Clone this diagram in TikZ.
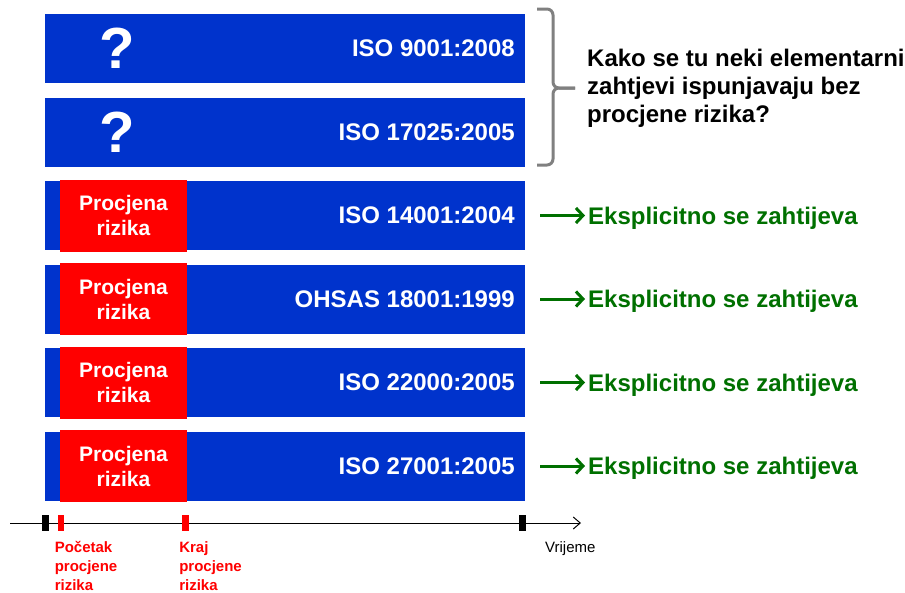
\documentclass[tikz,border=0pt]{standalone}
\usepackage{fontspec}
\setmainfont{Liberation Sans}
\usetikzlibrary{arrows.meta, positioning}
\definecolor{isoblue}{RGB}{0,51,204}
\definecolor{riskred}{RGB}{255,0,0}
\definecolor{okgreen}{RGB}{0,112,0}
\definecolor{bracegray}{RGB}{128,128,128}

\begin{document}
\begin{tikzpicture}[x=1pt, y=-1pt, node distance=14.5pt,
    bar/.style={rectangle, fill=isoblue, minimum width=480pt, minimum height=69pt, inner sep=0pt, outer sep=0pt},
    risk/.style={rectangle, fill=riskred, minimum width=127pt, minimum height=72pt, inner sep=0pt, outer sep=0pt, align=center, text=white, font=\fontsize{21}{25}\selectfont\bfseries},
    isotext/.style={inner sep=0pt, text=white, font=\fontsize{24}{28}\selectfont\bfseries},
    qmark/.style={inner sep=0pt, text=white, font=\fontsize{58}{62}\selectfont\bfseries},
    needed/.style={inner sep=0pt, text depth=0pt, text=okgreen, font=\fontsize{24}{28}\selectfont\bfseries},
    garrow/.style={okgreen, line width=3pt, -{Straight Barb[length=7pt,width=15pt]}, shorten <=15pt, shorten >=3pt},
    tick/.style={rectangle, minimum width=6.5pt, minimum height=16pt, inner sep=0pt},
    tlabel/.style={inner sep=0pt, align=left, text=riskred, font=\fontsize{15}{19}\selectfont\bfseries},
    bracket/.style={bracegray, line width=3pt, rounded corners=6pt}
]
    \useasboundingbox (0,0) rectangle (905,592);

    % Standard bars
    \node (b1) [bar] at (285,48.5) {};
    \node (b2) [bar, below=of b1] {};
    \node (b3) [bar, below=of b2] {};
    \node (b4) [bar, below=of b3] {};
    \node (b5) [bar, below=of b4] {};
    \node (b6) [bar, below=of b5] {};

    % Standard names
    \node (iso1) [isotext, left=10pt of b1.east] {ISO 9001:2008};
    \node (iso2) [isotext, left=10pt of b2.east] {ISO 17025:2005};
    \node (iso3) [isotext, left=10pt of b3.east] {ISO 14001:2004};
    \node (iso4) [isotext, left=10pt of b4.east] {OHSAS 18001:1999};
    \node (iso5) [isotext, left=10pt of b5.east] {ISO 22000:2005};
    \node (iso6) [isotext, left=10pt of b6.east] {ISO 27001:2005};

    % Unknown risk assessment
    \node (q1) [qmark, right=54pt of b1.west] {?};
    \node (q2) [qmark, right=54pt of b2.west] {?};

    % Risk assessment boxes
    \node (r3) [risk, right=15pt of b3.west] {Procjena\\rizika};
    \node (r4) [risk, right=15pt of b4.west] {Procjena\\rizika};
    \node (r5) [risk, right=15pt of b5.west] {Procjena\\rizika};
    \node (r6) [risk, right=15pt of b6.west] {Procjena\\rizika};

    % Bracket and question
    \draw[bracket] (575,88) -- (553,88) -- (553,9) -- (537,9);
    \draw[bracket] (575,88) -- (553,88) -- (553,165) -- (537,165);
    \node (question) [inner sep=0pt, align=left, anchor=west, font=\fontsize{24}{28}\selectfont\bfseries] at (587,88) {Kako se tu neki elementarni\\zahtjevi ispunjavaju bez\\procjene rizika?};

    % Explicit requirements
    \node (e3) [needed, right=63pt of b3] {Eksplicitno se zahtijeva};
    \node (e4) [needed, right=63pt of b4] {Eksplicitno se zahtijeva};
    \node (e5) [needed, right=63pt of b5] {Eksplicitno se zahtijeva};
    \node (e6) [needed, right=63pt of b6] {Eksplicitno se zahtijeva};

    \draw[garrow] (b3) -- (e3);
    \draw[garrow] (b4) -- (e4);
    \draw[garrow] (b5) -- (e5);
    \draw[garrow] (b6) -- (e6);

    % Time axis
    \coordinate (tstart) at (10,523);
    \coordinate (tend) at (581,523);
    \draw[line width=1pt, -{Straight Barb[length=7pt,width=12pt]}] (tstart) -- (tend);

    \node (k0) [tick, fill=black] at (45.5,523) {};
    \node (k1) [tick, fill=riskred] at (61,523) {};
    \node (k2) [tick, fill=riskred] at (185.5,523) {};
    \node (k3) [tick, fill=black] at (522.5,523) {};

    \node (start) [tlabel, below right=10pt and -3pt of k1.south west] {Početak\\procjene\\rizika};
    \node (end) [tlabel, below right=10pt and -3pt of k2.south west] {Kraj\\procjene\\rizika};
    \node (vrijeme) [inner sep=0pt, font=\fontsize{15}{18}\selectfont, below right=10pt and 19pt of k3.south east] {Vrijeme};
\end{tikzpicture}
\end{document}
